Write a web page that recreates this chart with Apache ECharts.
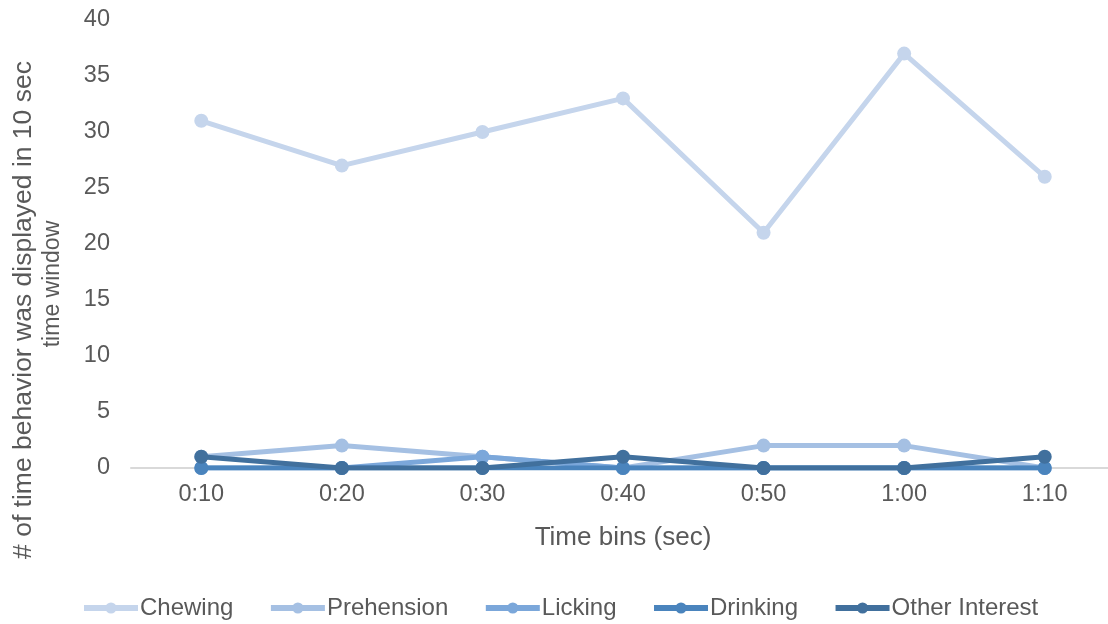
<!DOCTYPE html>
<html>
<head>
<meta charset="utf-8">
<script src="https://cdn.jsdelivr.net/npm/echarts@6/dist/echarts.min.js"></script>
<style>
  html, body { margin: 0; padding: 0; background: #fff; overflow: hidden; }
  #box { width: 1118px; height: 624px; }
</style>
</head>
<body>
<div id="box"></div>
<script>
const categories = ['0:10', '0:20', '0:30', '0:40', '0:50', '1:00', '1:10']
const seriesNames = ['Chewing', 'Prehension', 'Licking', 'Drinking', 'Other Interest']
const chewing = [31, 27, 30, 33, 21, 37, 26]
const prehension = [1, 2, 1, 0, 2, 2, 0]
const licking = [0, 0, 1, 0, 0, 0, 0]
const drinking = [0, 0, 0, 0, 0, 0, 0]
const otherInterest = [1, 0, 0, 1, 0, 0, 1]
const yTicks = [0, 5, 10, 15, 20, 25, 30, 35, 40]

const colors = ['#c5d5ec', '#a5c0e3', '#7ba7da', '#4a84bd', '#41709d']
const values = [chewing, prehension, licking, drinking, otherInterest]

const font = 'Liberation Sans, Arial, sans-serif'
const textColor = '#595959'

const chart = echarts.init(document.getElementById('box'))

chart.setOption({
    animation: false,
    color: colors,
    grid: { left: 131, top: 20, width: 984, height: 448, containLabel: false, outerBoundsMode: 'none' },
    legend: {
        top: 596,
        left: 81,
        padding: 0,
        itemWidth: 54,
        itemHeight: 14,
        itemGap: 34.5,
        lineStyle: { width: 6 },
        textStyle: { fontFamily: font, fontSize: 24, color: textColor, padding: [0, 0, 0, -3] },
        data: seriesNames
    },
    xAxis: {
        type: 'category',
        data: categories,
        boundaryGap: true,
        name: 'Time bins (sec)',
        nameLocation: 'middle',
        nameGap: 57,
        nameTextStyle: { fontFamily: font, fontSize: 26, color: textColor, verticalAlign: 'top' },
        axisLine: { lineStyle: { color: '#d9d9d9', width: 2 } },
        axisTick: { show: false },
        axisLabel: { fontFamily: font, fontSize: 23.5, color: textColor, margin: 15 }
    },
    yAxis: {
        type: 'value',
        min: yTicks[0],
        max: yTicks[yTicks.length - 1],
        interval: 5,
        name: '{a|# of time behavior was displayed in 10 sec}\n{b|time window}',
        nameLocation: 'middle',
        nameGap: 64,
        nameTextStyle: {
            fontFamily: font, fontSize: 26.5, color: textColor, lineHeight: 29,
            rich: {
                a: { fontFamily: font, fontSize: 26.5, color: textColor, lineHeight: 29, padding: [0, 132, 0, 0] },
                b: { fontFamily: font, fontSize: 23, color: textColor, lineHeight: 29, padding: [0, 80, 0, 0] }
            }
        },
        axisLine: { show: false },
        axisTick: { show: false },
        splitLine: { show: false },
        axisLabel: { fontFamily: font, fontSize: 23.5, color: textColor, margin: 21 }
    },
    series: seriesNames.map((name, i) => ({
        name,
        type: 'line',
        data: values[i],
        symbol: 'circle',
        symbolSize: 14,
        lineStyle: { width: 5, color: colors[i] },
        itemStyle: { color: colors[i] },
        z: 2 + i
    }))
})
</script>
</body>
</html>
